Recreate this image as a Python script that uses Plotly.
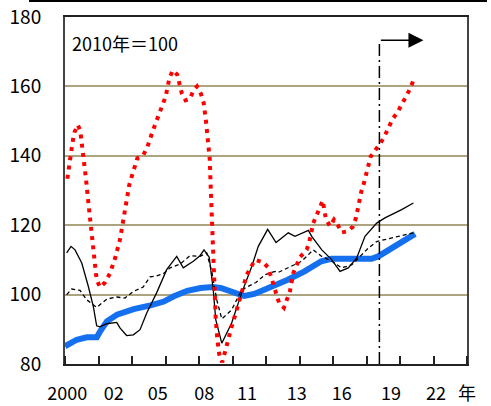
import plotly.graph_objects as go

# ---- data ----
BLUE_T = [2000.0, 2000.7, 2001.3, 2001.9, 2002.1, 2002.5, 2003.1, 2004.1, 2005.1, 2005.9, 2006.5, 2007.3,
          2008.1, 2008.8, 2009.3, 2010.1, 2010.7, 2011.3, 2012.3, 2013.3, 2014.3, 2015.3, 2015.9, 2017.3,
          2018.3, 2018.7, 2019.3, 2020.1, 2020.9]
BLUE_V = [85.1, 87.0, 87.7, 87.7, 89.4, 92.3, 94.2, 95.8, 96.9, 98.0, 99.5, 101.1,
          101.9, 102.2, 101.9, 100.6, 99.6, 100.2, 102.2, 104.3, 106.7, 109.6, 110.3, 110.1,
          110.3, 111.0, 112.9, 115.3, 117.5]

SOLID_T = [2000.1, 2000.36, 2000.6, 2001.0, 2001.39, 2001.69, 2001.89, 2002.09, 2002.49, 2003.09, 2003.28,
           2003.68, 2004.08, 2004.48, 2004.88, 2005.47, 2006.07, 2006.67, 2007.06, 2007.66, 2008.06, 2008.3,
           2008.61, 2008.85, 2009.0, 2009.36, 2009.95, 2010.55, 2011.15, 2011.54, 2012.1, 2012.6, 2013.33,
           2013.73, 2014.53, 2014.73, 2015.33, 2015.92, 2016.42, 2016.91, 2017.41, 2017.91, 2018.61, 2019.1,
           2020.1, 2020.8]
SOLID_V = [112.0, 113.9, 112.9, 109.1, 102.4, 96.6, 91.0, 90.7, 91.6, 92.0, 90.4,
           88.2, 88.4, 89.9, 94.7, 100.5, 107.2, 111.0, 107.7, 109.6, 111.2, 112.9,
           110.8, 101.4, 92.8, 86.0, 91.8, 100.5, 108.1, 113.9, 118.8, 115.0, 117.8,
           116.8, 118.5, 116.8, 112.9, 110.1, 106.7, 107.7, 110.5, 116.8, 120.6, 122.1,
           124.5, 126.4]

DASH_T = [2000.1, 2000.4, 2000.9, 2001.3, 2001.89, 2002.49, 2003.09, 2003.58, 2004.08, 2004.67, 2005.07,
          2005.47, 2005.87, 2006.27, 2006.87, 2007.46, 2008.06, 2008.46, 2008.76, 2009.06, 2009.36, 2009.95,
          2010.55, 2011.4, 2011.94, 2012.24, 2012.54, 2012.73, 2013.33, 2014.13, 2014.82, 2015.33, 2015.92,
          2016.52, 2017.12, 2017.61, 2018.11, 2018.61, 2019.3, 2020.1, 2020.8]
DASH_V = [100.0, 101.6, 101.2, 98.5, 96.3, 98.7, 99.3, 99.0, 100.9, 102.2, 105.1,
          105.4, 106.0, 107.7, 108.8, 111.2, 111.0, 112.0, 106.7, 98.5, 93.0, 95.6,
          101.4, 103.5, 105.7, 106.2, 106.7, 106.4, 107.7, 109.6, 112.9, 111.0, 109.6,
          107.7, 108.6, 111.0, 113.4, 115.3, 116.0, 117.0, 117.8]

RED_T = [2000.14, 2000.28, 2000.46, 2000.56, 2000.76, 2000.91, 2001.06, 2001.24, 2001.41, 2001.57, 2001.73,
         2001.89, 2002.09, 2002.39, 2002.69, 2002.99, 2003.28, 2003.46, 2003.68, 2003.84, 2004.0, 2004.16,
         2004.32, 2004.66, 2004.9, 2005.25, 2005.61, 2006.01, 2006.23, 2006.43, 2006.7, 2006.82, 2006.97,
         2007.2, 2007.46, 2007.66, 2007.88, 2008.12, 2008.28, 2008.42, 2008.54, 2008.64, 2008.7, 2008.76,
         2008.85, 2008.96, 2009.0, 2009.09, 2009.21, 2009.39, 2009.51, 2009.65, 2009.95, 2010.25, 2010.55,
         2010.85, 2011.34, 2011.84, 2012.14, 2012.3, 2012.44, 2012.6, 2012.78, 2013.07, 2013.27, 2013.43,
         2013.63, 2014.03, 2014.43, 2014.59, 2014.82, 2015.03, 2015.22, 2015.39, 2015.48, 2015.58, 2015.82,
         2016.06, 2016.28, 2016.52, 2016.82, 2017.18, 2017.37, 2017.47, 2017.57, 2017.69, 2017.85, 2017.99,
         2018.07, 2018.25, 2018.55, 2018.85, 2019.1, 2019.34, 2019.56, 2019.86, 2020.1, 2020.36, 2020.6,
         2020.8]
RED_V = [133.4, 138.7, 144.2, 146.7, 148.9, 147.3, 142.0, 133.9, 125.8, 117.8, 112.0,
         104.3, 102.1, 103.5, 106.2, 110.5, 115.8, 121.0, 126.4, 131.7, 134.3, 136.9,
         139.3, 140.1, 142.3, 147.3, 152.3, 157.1, 162.3, 164.6, 163.4, 160.7, 158.1,
         156.0, 156.4, 158.8, 160.0, 157.8, 155.2, 149.8, 144.4, 139.1, 130.9, 122.7,
         114.4, 101.4, 92.8, 87.5, 82.7, 80.5, 82.7, 86.0, 90.8, 95.6, 100.9,
         105.7, 110.0, 109.3, 107.7, 105.1, 102.6, 100.0, 97.6, 96.2, 98.6, 101.0,
         106.2, 110.8, 112.9, 115.3, 120.6, 123.0, 125.4, 127.1, 124.3, 121.8, 119.7,
         121.6, 120.1, 117.9, 118.2, 119.5, 122.1, 124.7, 127.1, 129.7, 132.2, 134.8,
         137.3, 139.8, 141.8, 143.7, 145.9, 148.2, 150.6, 152.6, 155.0, 157.1, 159.3,
         161.7]

X_LABELS = ["2000", "02", "05", "08", "11", "13", "16", "19", "22", "年"]
X_LABEL_POS = [2000.13, 2002.91, 2005.54, 2008.31, 2010.87, 2013.83, 2016.52, 2019.46, 2022.15, 2024.0]
Y_TICKS = [80, 100, 120, 140, 160, 180]

FORECAST_START = 2018.77
ARROW_END = 2021.4
ARROW_LEVEL = 173.3

FONT = "Noto Sans CJK JP"

fig = go.Figure()
fig.add_trace(go.Scatter(x=BLUE_T, y=BLUE_V, mode="lines",
                         line=dict(color="#1570F0", width=6), hoverinfo="skip"))
fig.add_trace(go.Scatter(x=SOLID_T, y=SOLID_V, mode="lines",
                         line=dict(color="black", width=1.3), hoverinfo="skip"))
fig.add_trace(go.Scatter(x=DASH_T, y=DASH_V, mode="lines",
                         line=dict(color="black", width=1.3, dash="4px,3px"), hoverinfo="skip"))
fig.add_trace(go.Scatter(x=RED_T, y=RED_V, mode="lines",
                         line=dict(color="#FF0000", width=4, dash="4px,5.3px"), hoverinfo="skip"))

# forecast marker: dash-dot vertical line with arrow
fig.add_shape(type="line", xref="x", yref="y", x0=FORECAST_START, x1=FORECAST_START,
              y0=80, y1=ARROW_LEVEL, line=dict(color="black", width=1.5, dash="12px,4px,2px,4px"))
fig.add_annotation(x=ARROW_END, y=ARROW_LEVEL, ax=FORECAST_START, ay=ARROW_LEVEL,
                   xref="x", yref="y", axref="x", ayref="y", text="", showarrow=True,
                   arrowhead=2, arrowsize=2, arrowwidth=1.5, arrowcolor="black")

fig.add_annotation(x=0.012, y=0.925, xref="paper", yref="paper", xanchor="left", yanchor="middle",
                   text="2010年＝100", showarrow=False, font=dict(family=FONT, size=18, color="black"))

# top rule line of the page
fig.add_shape(type="line", xref="paper", yref="paper", x0=(29 - 65) / 402, x1=(487 - 65) / 402,
              y0=1.046, y1=1.046, line=dict(color="black", width=2))

fig.update_layout(
    width=491, height=406,
    margin=dict(l=65, r=24, t=17, b=42, autoexpand=False),
    paper_bgcolor="white", plot_bgcolor="white",
    showlegend=False,
    font=dict(family=FONT, size=19, color="black"),
    xaxis=dict(range=[2000, 2024], tickmode="array", tickvals=X_LABEL_POS, ticktext=X_LABELS,
               ticks="", showgrid=False, zeroline=False, showline=True, linecolor="#222",
               linewidth=2, mirror=True, ticklabelstandoff=12, automargin=False,
               tickfont=dict(family=FONT, size=18, color="black"),
               minor=dict(tickmode="linear", tick0=2000, dtick=2, ticks="inside", ticklen=8,
                          tickwidth=2, tickcolor="#222", showgrid=False)),
    yaxis=dict(range=[80, 180], tickmode="array", tickvals=Y_TICKS, ticks="", showgrid=True,
               gridcolor="#ADA37F", gridwidth=2, zeroline=False, showline=True, linecolor="#444",
               linewidth=2, mirror=True, ticklabelstandoff=18, automargin=False),
)

fig.write_html("out.html", config={"displayModeBar": False},
               post_script="document.body.style.margin='0';document.body.style.padding='0';")
